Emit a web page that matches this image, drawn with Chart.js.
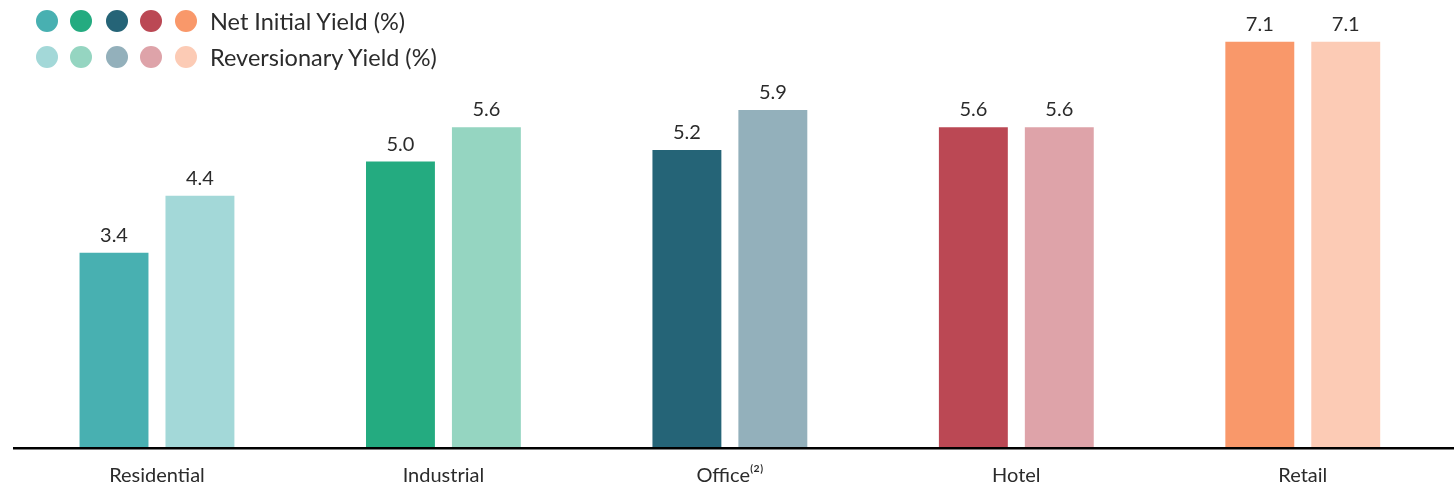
<!DOCTYPE html>
<html>
<head>
<meta charset="utf-8">
<script src="https://cdn.jsdelivr.net/npm/chart.js@4"></script>
<style>
  html, body { margin: 0; padding: 0; background: #fff; }
  #wrap { position: relative; width: 1454px; height: 488px; }
  #legend { position: absolute; left: 0; top: 0; font-family: Lato, sans-serif; font-size: 23.5px; color: #2b2b2b; }
  .row { position: absolute; left: 0; height: 24px; white-space: nowrap; }
  .dot { position: absolute; width: 22px; height: 22px; border-radius: 50%; }
  .txt { position: absolute; left: 210px; line-height: 24px; top: -1px; }
</style>
</head>
<body>
<div id="wrap">
  <canvas id="chart" width="1454" height="488"></canvas>
  <div id="legend"></div>
</div>
<script>
//* DATOS
const Categorias = ['Residential', 'Industrial', 'Office⁽²⁾', 'Hotel', 'Retail'];
const NetInitialYield = [3.4, 5.0, 5.2, 5.6, 7.1];
const ReversionaryYield = [4.4, 5.6, 5.9, 5.6, 7.1];
const ColoresNIY = ['#48b0b1', '#24ab80', '#256477', '#bb4854', '#f9986a'];
const ColoresRY = ['#a3d8d8', '#95d5c1', '#93b0bb', '#dea3a9', '#fccbb5'];
const Series = ['Net Initial Yield (%)', 'Reversionary Yield (%)'];

// leyenda
const legend = document.getElementById('legend');
const dotX = [36, 70, 106, 140, 175];
[ColoresNIY, ColoresRY].forEach((cols, r) => {
    const row = document.createElement('div');
    row.className = 'row';
    row.style.top = (r === 0 ? 10 : 46) + 'px';
    cols.forEach((c, i) => {
        const d = document.createElement('div');
        d.className = 'dot';
        d.style.left = dotX[i] + 'px';
        d.style.background = c;
        row.appendChild(d);
    });
    const t = document.createElement('div');
    t.className = 'txt';
    t.textContent = Series[r];
    row.appendChild(t);
    legend.appendChild(row);
});

const etiquetas = {
    id: 'etiquetas',
    afterDatasetsDraw(chart) {
        const ctx = chart.ctx;
        ctx.save();
        ctx.font = '20px Lato';
        ctx.fillStyle = '#2b2b2b';
        ctx.textAlign = 'center';
        ctx.textBaseline = 'alphabetic';
        chart.data.datasets.forEach((ds, di) => {
            chart.getDatasetMeta(di).data.forEach((bar, i) => {
                ctx.fillText(ds.data[i].toFixed(1), bar.x, bar.y - 11);
            });
        });
        // linea base
        const y = chart.scales.y.getPixelForValue(0);
        ctx.fillStyle = '#000';
        ctx.fillRect(13, y, chart.width - 13, 2.5);
        ctx.restore();
    }
};

new Chart(document.getElementById('chart'), {
    type: 'bar',
    data: {
        labels: Categorias,
        datasets: [{
            label: Series[0],
            data: NetInitialYield,
            backgroundColor: ColoresNIY
        }, {
            label: Series[1],
            data: ReversionaryYield,
            backgroundColor: ColoresRY
        }]
    },
    options: {
        responsive: false,
        animation: false,
        layout: { padding: { left: 13.75, right: 8, top: 41.6, bottom: -17 } },
        datasets: { bar: { categoryPercentage: 0.6, barPercentage: 0.802 } },
        plugins: { legend: { display: false }, tooltip: { enabled: false } },
        scales: {
            x: {
                grid: { display: false, drawTicks: false },
                border: { display: false },
                ticks: { color: '#2b2b2b', padding: 17, font: { family: 'Lato', size: 20 } }
            },
            y: { display: false, min: 0, max: 7.1 }
        }
    },
    plugins: [etiquetas]
});
</script>
</body>
</html>
